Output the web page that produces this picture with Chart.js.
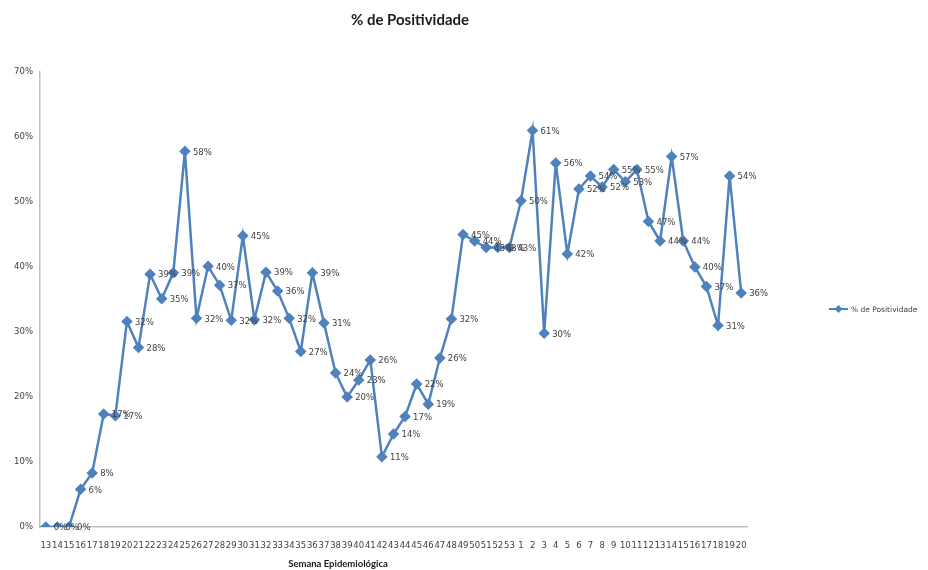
<!DOCTYPE html>
<html>
<head>
<meta charset="utf-8">
<script src="https://cdn.jsdelivr.net/npm/chart.js@4/dist/chart.umd.min.js"></script>
<style>
  html, body { margin: 0; padding: 0; background: #fff; }
  #wrap { width: 928px; height: 570px; }
</style>
</head>
<body>
<div id="wrap"><canvas id="posChart"></canvas></div>
<script>
// Semana epidemiológica (13 a 53, depois 1 a 20)
const weeks = ['13','14','15','16','17','18','19','20','21','22','23','24','25','26','27','28','29','30','31','32',
  '33','34','35','36','37','38','39','40','41','42','43','44','45','46','47','48','49','50','51','52','53',
  '1','2','3','4','5','6','7','8','9','10','11','12','13','14','15','16','17','18','19','20'];

// % de positividade por semana
const positividade = [0, 0, 0, 5.8, 8.3, 17.4, 17.1, 31.6, 27.6, 38.9, 35.1, 39.1, 57.8, 32.1, 40.1, 37.2, 31.8, 44.8, 31.9, 39.2,
  36.3, 32.1, 27, 39.1, 31.4, 23.7, 20, 22.6, 25.7, 10.8, 14.3, 17, 22, 18.9, 26, 32, 45, 44, 43, 43, 43,
  50.2, 61, 29.8, 56, 42, 52, 54, 52.3, 55, 53.1, 55, 47, 44, 57, 44, 40, 37, 31, 54, 36];

const yTicks = [0, 10, 20, 30, 40, 50, 60, 70];

const chartTitle = '% de Positividade';
const seriesName = '% de Positividade';
const xTitle = 'Semana Epidemiológica';

const blue = '#4f81bd';
const smallFont = '8.5px "DejaVu Sans"';

// data labels, title, axis title and legend drawn on the canvas
const extras = {
    id: 'extras',
    afterDatasetsDraw(chart) {
        const ctx = chart.ctx;
        const meta = chart.getDatasetMeta(0);
        ctx.save();
        ctx.font = smallFont;
        ctx.fillStyle = '#404040';
        ctx.textAlign = 'left';
        ctx.textBaseline = 'middle';
        meta.data.forEach((pt, i) => {
            ctx.fillText(Math.round(positividade[i]) + '%', pt.x + 8, pt.y + 1);
        });
        ctx.restore();
    },
    afterDraw(chart) {
        const ctx = chart.ctx;
        ctx.save();
        // title
        ctx.fillStyle = '#1a1a1a';
        ctx.textAlign = 'center';
        ctx.textBaseline = 'middle';
        ctx.font = 'bold 15px Lato';
        ctx.fillText(chartTitle, 410, 20);
        // x axis title
        ctx.font = 'bold 9.5px Lato';
        ctx.fillText(xTitle, 338, 564);
        // legend
        const ly = 309;
        ctx.strokeStyle = blue;
        ctx.lineWidth = 2;
        ctx.beginPath();
        ctx.moveTo(829, ly);
        ctx.lineTo(848, ly);
        ctx.stroke();
        ctx.fillStyle = blue;
        ctx.beginPath();
        ctx.moveTo(838.5, ly - 4);
        ctx.lineTo(842.5, ly);
        ctx.lineTo(838.5, ly + 4);
        ctx.lineTo(834.5, ly);
        ctx.closePath();
        ctx.fill();
        ctx.fillStyle = '#404040';
        ctx.textAlign = 'left';
        ctx.font = '7.5px "DejaVu Sans"';
        ctx.fillText(seriesName, 851, ly + 1);
        ctx.restore();
    }
};

const ctx = document.getElementById('posChart').getContext('2d');
const posChart = new Chart(ctx, {
    type: 'line',
    data: {
        labels: weeks,
        datasets: [{
            label: seriesName,
            data: positividade,
            borderColor: blue,
            backgroundColor: blue,
            borderWidth: 2.5,
            pointStyle: 'rectRot',
            pointRadius: 4,
            pointHoverRadius: 4,
            tension: 0,
            fill: false
        }]
    },
    options: {
        responsive: true,
        maintainAspectRatio: false,
        animation: false,
        layout: {
            padding: { left: 0, right: 181, top: 72, bottom: 18 }
        },
        plugins: {
            legend: { display: false },
            title: { display: false },
            tooltip: { enabled: false }
        },
        scales: {
            x: {
                offset: true,
                grid: { display: false, drawTicks: false },
                border: { display: true, color: '#bfbfbf', width: 1.5 },
                afterFit(axis) { axis.height = 25; },
                ticks: {
                    autoSkip: false,
                    maxRotation: 0,
                    minRotation: 0,
                    padding: 14,
                    color: '#404040',
                    font: { family: 'DejaVu Sans', size: 8.5 }
                }
            },
            y: {
                min: 0,
                max: 70,
                grid: { display: false, drawTicks: false },
                border: { display: true, color: '#bfbfbf', width: 1.5 },
                afterFit(axis) { axis.width = 40; },
                afterBuildTicks(axis) {
                    axis.ticks = yTicks.map(v => ({ value: v }));
                },
                ticks: {
                    padding: 7,
                    color: '#404040',
                    font: { family: 'DejaVu Sans', size: 8.5 },
                    callback: v => v + '%'
                }
            }
        }
    },
    plugins: [extras]
});
</script>
</body>
</html>
